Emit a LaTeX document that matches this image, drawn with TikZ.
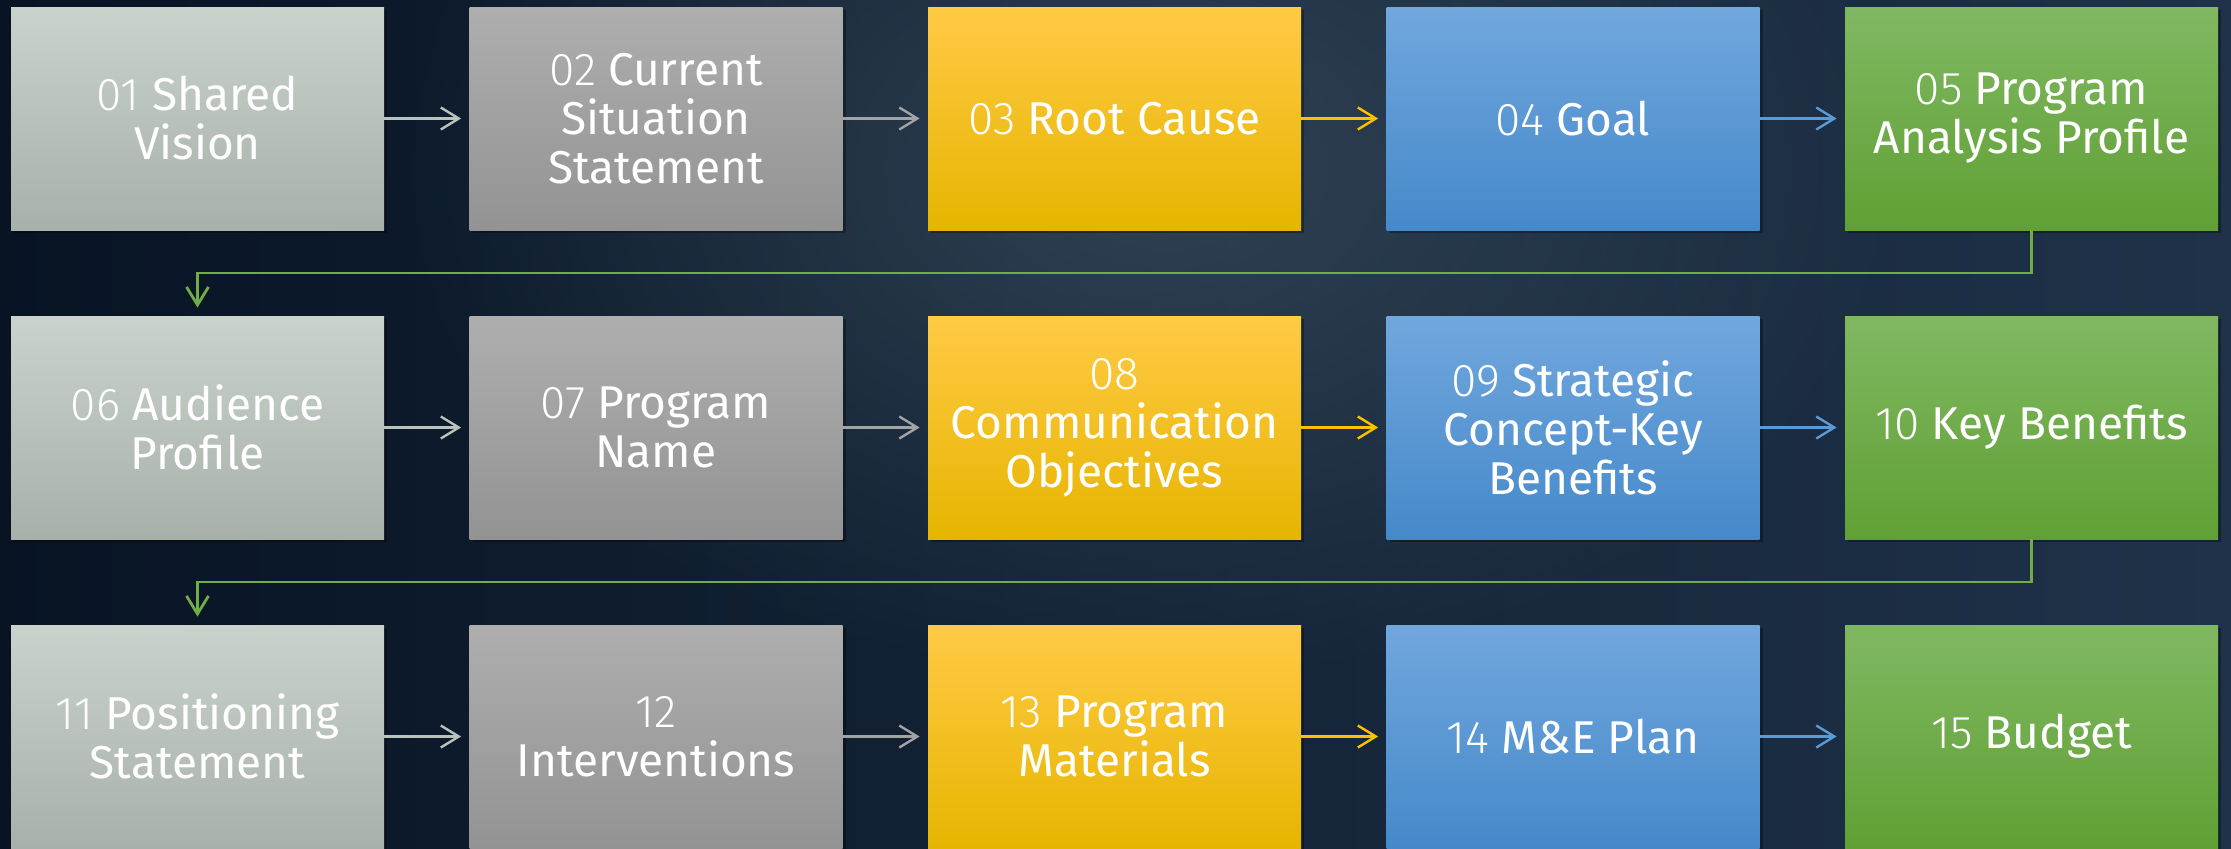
\documentclass[tikz,border=0pt]{standalone}
\usepackage{fontspec}
\setmainfont{Fira Sans}
\newfontfamily\numfont{Fira Sans Light}
\usetikzlibrary{arrows.meta,shadows,fadings}

\definecolor{bgL}{HTML}{081424}
\definecolor{bgR}{HTML}{1F3249}
\definecolor{glowC}{HTML}{3E5262}
\definecolor{sageA}{HTML}{C9D3CB}
\definecolor{sageB}{HTML}{A8B1A9}
\definecolor{greyA}{HTML}{AEAEAE}
\definecolor{greyB}{HTML}{939393}
\definecolor{goldA}{HTML}{FFCA45}
\definecolor{goldB}{HTML}{E6B500}
\definecolor{skyA}{HTML}{71A7DD}
\definecolor{skyB}{HTML}{4589CA}
\definecolor{leafA}{HTML}{80B862}
\definecolor{leafB}{HTML}{60A034}
\definecolor{sageLn}{HTML}{B9C3BB}
\definecolor{greyLn}{HTML}{A3A3A3}
\definecolor{goldLn}{HTML}{FFC000}
\definecolor{skyLn}{HTML}{5B9BD5}
\definecolor{leafLn}{HTML}{70AD47}

\tikzfading[name=softglow, inner color=transparent!35, outer color=transparent!100]

\newcommand{\nr}[1]{{\numfont #1}}

\tikzset{
  box/.style={minimum width=186.5pt, minimum height=111.5pt, inner sep=0pt,
    text=white, align=center, font=\fontsize{23}{24.5}\selectfont,
    drop shadow={opacity=0.3, fill=black, shadow xshift=1.5pt, shadow yshift=-1.5pt}},
  sage/.style={box, top color=sageA, bottom color=sageB},
  grey/.style={box, top color=greyA, bottom color=greyB},
  gold/.style={box, top color=goldA, bottom color=goldB},
  sky/.style={box, top color=skyA, bottom color=skyB},
  leaf/.style={box, top color=leafA, bottom color=leafB},
  link/.style={line width=1.2pt, -{Straight Barb[length=9pt,width=11pt]}, shorten >=4pt},
}

\begin{document}
\begin{tikzpicture}[x=0.5pt,y=0.5pt,yscale=-1,xscale=1]
%background
\useasboundingbox (0,0) rectangle (2231,848);
\clip (0,0) rectangle (2231,848);
\shade [left color=bgL, right color=bgR] (0,0) rectangle (2231,848);
\fill [glowC, path fading=softglow] (1150,170) ellipse (760 and 520);

%row 1
\node [sage] (b01) at (197.5,118.5) {\nr{01} Shared\\Vision};
\node [grey] (b02) at (656,118.5) {\nr{02} Current\\Situation\\Statement};
\node [gold] (b03) at (1114.5,118.5) {\nr{03} Root Cause};
\node [sky] (b04) at (1573,118.5) {\nr{04} Goal};
\node [leaf] (b05) at (2031.5,118.5) {\nr{05} Program\\Analysis Profile};

%row 2
\node [sage] (b06) at (197.5,427.5) {\nr{06} Audience\\Profile};
\node [grey] (b07) at (656,427.5) {\nr{07} Program\\Name};
\node [gold] (b08) at (1114.5,427.5) {\nr{08}\\Communication\\Objectives};
\node [sky] (b09) at (1573,427.5) {\nr{09} Strategic\\Concept-Key\\Benefits};
\node [leaf] (b10) at (2031.5,427.5) {\nr{10} Key Benefits};

%row 3
\node [sage] (b11) at (197.5,736.5) {\nr{11} Positioning\\Statement};
\node [grey] (b12) at (656,736.5) {\nr{12}\\Interventions};
\node [gold] (b13) at (1114.5,736.5) {\nr{13} Program\\Materials};
\node [sky] (b14) at (1573,736.5) {\nr{14} M\&E Plan};
\node [leaf] (b15) at (2031.5,736.5) {\nr{15} Budget};

%arrows
\draw [link, sageLn] (b01) -- (b02);
\draw [link, greyLn] (b02) -- (b03);
\draw [link, goldLn] (b03) -- (b04);
\draw [link, skyLn] (b04) -- (b05);
\draw [link, sageLn] (b06) -- (b07);
\draw [link, greyLn] (b07) -- (b08);
\draw [link, goldLn] (b08) -- (b09);
\draw [link, skyLn] (b09) -- (b10);
\draw [link, sageLn] (b11) -- (b12);
\draw [link, greyLn] (b12) -- (b13);
\draw [link, goldLn] (b13) -- (b14);
\draw [link, skyLn] (b14) -- (b15);

%row breaks
\coordinate (turn1) at (197.5,273);
\coordinate (turn2) at (197.5,582);
\draw [link, leafLn, line width=1.4pt] (b05.south) |- (turn1) -- (b06.north);
\draw [link, leafLn, line width=1.4pt] (b10.south) |- (turn2) -- (b11.north);

\end{tikzpicture}
\end{document}
